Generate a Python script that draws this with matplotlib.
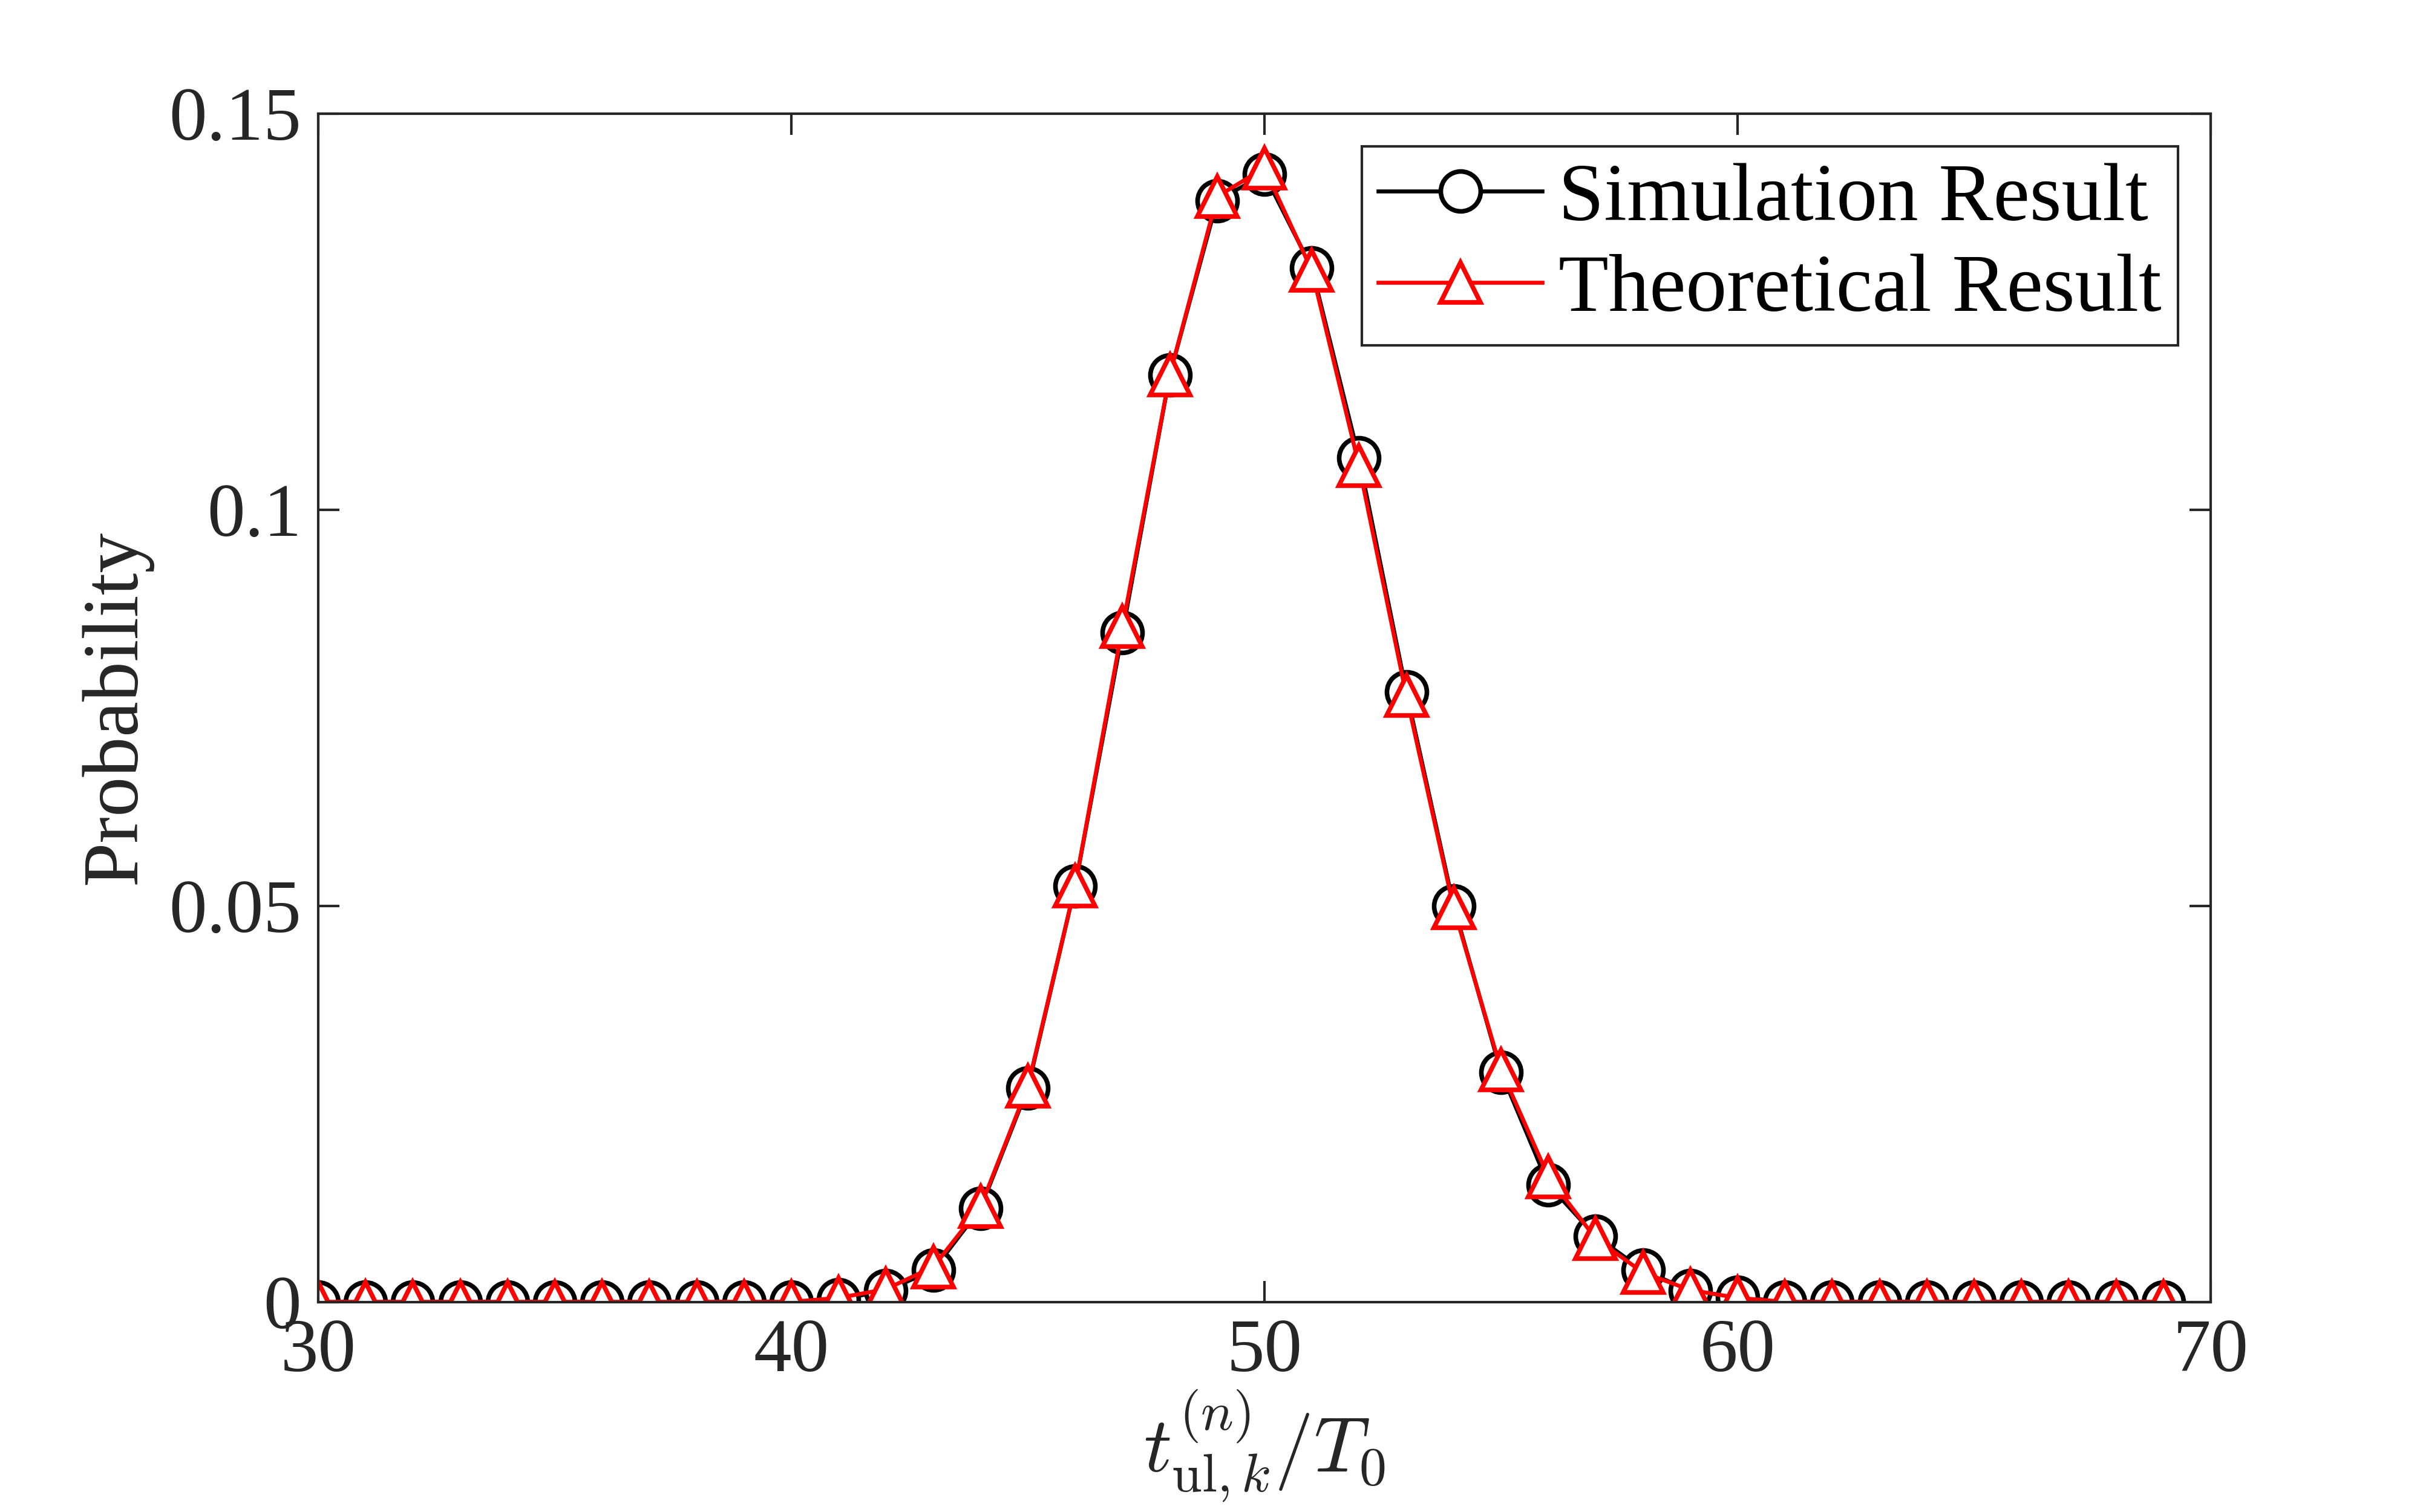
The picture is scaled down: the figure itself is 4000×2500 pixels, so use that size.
import numpy as np
import matplotlib
matplotlib.use("Agg")
import matplotlib.pyplot as plt

# data
slots = np.arange(30, 70)
sim_prob = [0, 0, 0, 0, 0, 0, 0, 0, 0, 0,
            0, 0.0003, 0.0014, 0.0040, 0.0118, 0.0270, 0.0525, 0.0845, 0.1170, 0.1390,
            0.1423, 0.1305, 0.1065, 0.0770, 0.0500, 0.0290, 0.0148, 0.0083, 0.0040, 0.0014,
            0.0006, 0, 0, 0, 0, 0, 0, 0, 0, 0]
theo_prob = [0, 0, 0, 0, 0, 0, 0, 0, 0, 0,
             0, 0.0005, 0.0016, 0.0044, 0.0120, 0.0272, 0.0525, 0.0852, 0.1170, 0.1395,
             0.1431, 0.1302, 0.1055, 0.0765, 0.0497, 0.0293, 0.0158, 0.0080, 0.0037, 0.0015,
             0.0005, 0, 0, 0, 0, 0, 0, 0, 0, 0]

plt.rcParams['font.family'] = ['Liberation Serif', 'DejaVu Serif']
plt.rcParams['mathtext.fontset'] = 'cm'
axc = '#262626'

fig = plt.figure(figsize=(16, 10), dpi=250)
ax = fig.add_axes([0.1315, 0.139, 0.782, 0.786])

ax.plot(slots, sim_prob, color='black', marker='o', markersize=19, markerfacecolor='white',
        markeredgewidth=2.2, linewidth=1.9, label='Simulation Result')
ax.plot(slots, theo_prob, color='red', marker='^', markersize=19, markerfacecolor='white',
        markeredgewidth=2.2, linewidth=1.9, label='Theoretical Result')

ax.set_xlim(30, 70)
ax.set_ylim(0, 0.15)
ax.set_xticks([30, 40, 50, 60, 70])
ax.set_yticks([0, 0.05, 0.1, 0.15])
ax.set_yticklabels(['0', '0.05', '0.1', '0.15'])
ax.tick_params(direction='in', top=True, right=True, length=10, width=1.2,
               colors=axc, labelsize=36, pad=8)
for s in ax.spines.values():
    s.set_color(axc)
    s.set_linewidth(1.2)

ax.set_xlabel(r'$t_{\mathrm{ul},k}^{(n)}/T_0$', fontsize=37, color=axc, labelpad=0)
ax.set_ylabel('Probability', fontsize=38, color=axc, labelpad=8)

leg = ax.legend(loc='upper right', fontsize=39, frameon=True, fancybox=False,
                edgecolor=axc, framealpha=1, handlelength=2.0, borderaxespad=0.4,
                borderpad=0.2, labelspacing=0.2, handletextpad=0.2)
leg.get_frame().set_linewidth(1.2)

fig.savefig('out.png', dpi=250)
